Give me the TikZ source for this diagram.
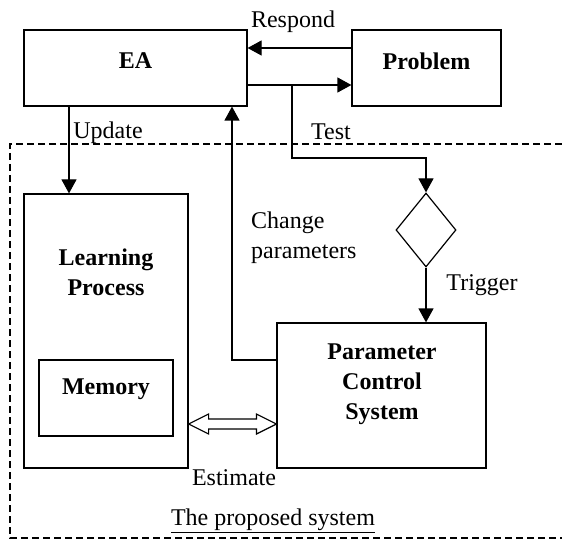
\documentclass[tikz,border=0pt]{standalone}
\usepackage{fontspec}
\setmainfont{Liberation Serif}
\usetikzlibrary{arrows.meta,shapes.geometric,calc}
\begin{document}
\begin{tikzpicture}[x=1pt,y=-1pt,
  box/.style={draw,line width=1.2pt,inner sep=0pt},
  btxt/.style={font=\fontsize{24}{30}\selectfont\bfseries,align=center,inner sep=0pt},
  ltxt/.style={font=\fontsize{24}{30}\selectfont,inner sep=0pt},
  conn/.style={line width=1.2pt},
  arr/.style={conn,-{Triangle[length=14pt,width=15pt]}}]
\useasboundingbox (0,0) rectangle (562,540);
% dashed system boundary
\draw[line width=1.3pt,dash pattern=on 7pt off 4pt] (562,144) -- (10,144) -- (10,538) -- (562,538);
% boxes
\node[box,minimum width=223pt,minimum height=76pt] (ea) at (135.5,68) {};
\node[btxt] (eatxt) at (135.5,61) {EA};
\node[box,minimum width=149pt,minimum height=76pt] (prob) at (426.5,68) {};
\node[btxt] (probtxt) at (426.5,61) {Problem};
\node[box,minimum width=164pt,minimum height=274pt] (learn) at (106,331) {};
\node[btxt] (learntxt) at (106,272) {Learning\\Process};
\node[box,minimum width=134pt,minimum height=76pt] (mem) at (106,398) {};
\node[btxt] (memtxt) at (106,389) {Memory};
\node[box,minimum width=209pt,minimum height=145pt] (param) at (381.5,395.5) {};
\node[btxt] (paramtxt) at (382,384) {Parameter\\Control\\System};
\node[draw,shape=diamond,line width=1.2pt,minimum width=60pt,minimum height=74pt,inner sep=0pt] (dia) at (426,230) {};
% connectors
\draw[arr] (prob.west |- 0,48) -- (ea.east |- 0,48);
\draw[arr] (ea.east |- 0,85) -- (prob.west |- 0,85);
\coordinate (br) at (292,85);
\draw[arr] (br) -- (292,158) -| (dia.north);
\draw[arr] (dia.south) -- (param.north -| dia.south);
\draw[arr] (ea.south -| 69,0) -- (learn.north -| 69,0);
\draw[arr] (param.west |- 0,360) -| (ea.south -| 232,0);
% hollow double arrow
\coordinate (dl) at (learn.east |- 0,424);
\coordinate (dr) at (param.west |- 0,424);
\draw[line width=1.2pt,line join=miter,fill=white] (dl) -- ($(dl)+(20,-10)$) -- ($(dl)+(20,-5)$) -- ($(dr)+(-20,-5)$) -- ($(dr)+(-20,-10)$) -- (dr) -- ($(dr)+(-20,10)$) -- ($(dr)+(-20,5)$) -- ($(dl)+(20,5)$) -- ($(dl)+(20,10)$) -- cycle;
% labels
\node[ltxt] (respond) at (293,22) {Respond};
\node[ltxt] (update) at (108,133) {Update};
\node[ltxt] (test) at (331,132) {Test};
\node[ltxt,anchor=west,align=left] (change) at (251,238) {Change\\parameters};
\node[ltxt] (trigger) at (482,285) {Trigger};
\node[ltxt] (estimate) at (234,478) {Estimate};
\node[ltxt] (proposed) at (273,521) {\underline{The proposed system}};
\end{tikzpicture}
\end{document}
